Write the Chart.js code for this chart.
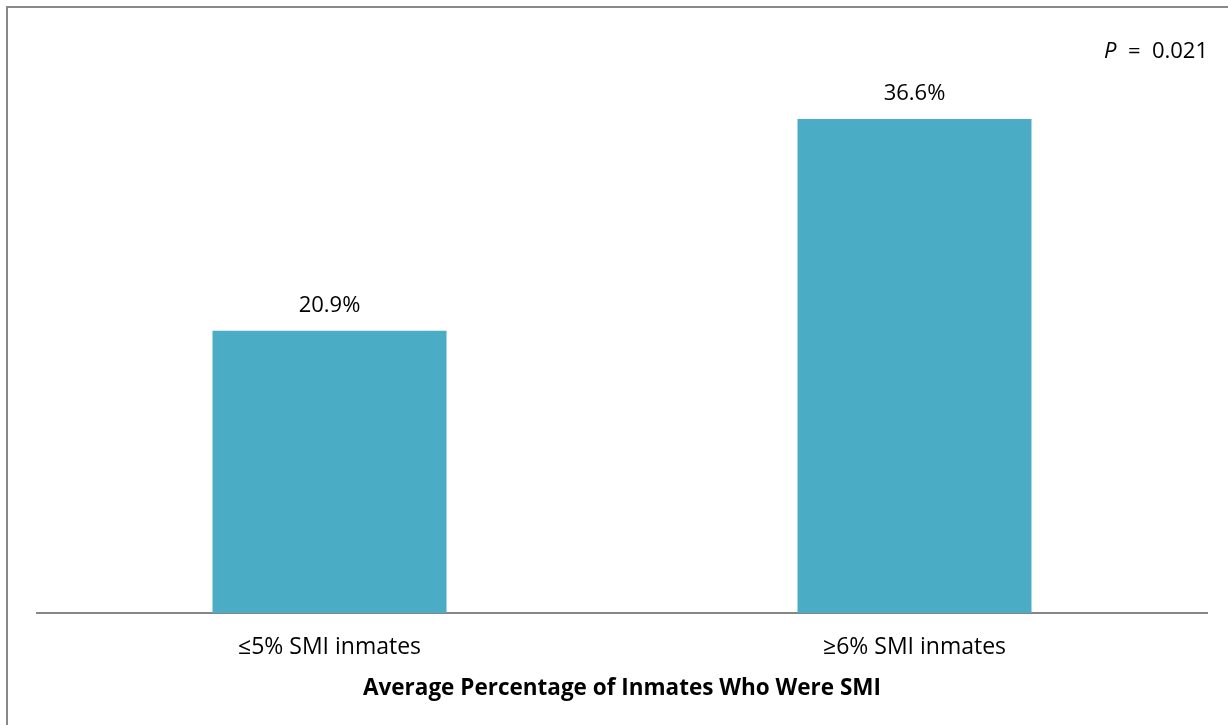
<!DOCTYPE html>
<html>
<head>
<meta charset="utf-8">
<script src="https://cdn.jsdelivr.net/npm/chart.js@4.4.0/dist/chart.umd.min.js"></script>
<style>
  html, body { margin: 0; padding: 0; background: #fff; overflow: hidden; }
  #wrap { position: relative; width: 1228px; height: 725px; }
  #frame { position: absolute; left: 6px; top: 6px; width: 1240px; height: 740px; border: 2px solid #888888; box-sizing: border-box; }
  canvas { position: absolute; left: 0; top: 0; }
</style>
</head>
<body>
<div id="wrap">
  <div id="frame"></div>
  <canvas id="myChart" width="1228" height="725"></canvas>
</div>
<script>
const categories = ['\u22645% SMI inmates', '\u22656% SMI inmates'];
const values = [20.9, 36.6];
const axisTitle = 'Average Percentage of Inmates Who Were SMI';
const pValue = '0.021';

const FONT = "'Open Sans', 'Liberation Sans', sans-serif";

const valueLabels = {
    id: 'valueLabels',
    afterDatasetsDraw(chart) {
        const c = chart.ctx;
        const meta = chart.getDatasetMeta(0);
        c.save();
        c.fillStyle = '#000';
        c.font = '22px ' + FONT;
        c.textAlign = 'center';
        c.textBaseline = 'middle';
        meta.data.forEach((bar, i) => {
            c.fillText(values[i].toFixed(1) + '%', bar.x, bar.y - 25);
        });
        // P value, top right
        c.textAlign = 'right';
        const rest = '  =  ' + pValue;
        const right = 1208;
        const y = 52;
        c.fillText(rest, right, y);
        const w = c.measureText(rest).width;
        c.font = 'italic 22px ' + FONT;
        c.fillText('P', right - w, y);
        c.restore();
    }
};

const ctx = document.getElementById('myChart').getContext('2d');
const myChart = new Chart(ctx, {
    type: 'bar',
    data: {
        labels: categories,
        datasets: [{
            data: values,
            backgroundColor: '#4BACC6',
            borderWidth: 0,
            barPercentage: 0.4,
            categoryPercentage: 1.0
        }]
    },
    options: {
        responsive: false,
        animation: false,
        layout: { padding: { left: 37, right: 21, top: 73, bottom: 0 } },
        plugins: {
            legend: { display: false },
            tooltip: { enabled: false },
            title: { display: false }
        },
        scales: {
            y: {
                display: false,
                min: 0,
                max: 40
            },
            x: {
                grid: { display: false, drawTicks: false },
                border: { display: true, color: '#868686', width: 2 },
                ticks: {
                    color: '#000',
                    font: { family: FONT, size: 23 },
                    padding: 21
                },
                title: {
                    display: true,
                    text: axisTitle,
                    color: '#000',
                    font: { family: FONT, size: 22.5, weight: 'bold' },
                    padding: { top: 0, bottom: 23 }
                },
                afterFit(scale) { scale.height = 112; }
            }
        }
    },
    plugins: [valueLabels]
});
</script>
</body>
</html>
